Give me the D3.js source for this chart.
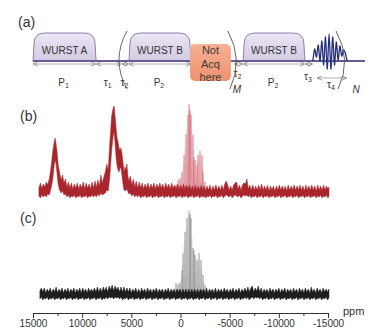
<!DOCTYPE html>
<html lang="en">
<head>
<meta charset="utf-8">
<title>WURST echo spectra</title>
<script src="https://cdn.jsdelivr.net/npm/d3@7"></script>
<style>
  body { margin: 0; background: #fff; }
  svg text { font-family: "Liberation Sans", Arial, sans-serif; }
</style>
</head>
<body>
<div id="chart"></div>
<script>

// ---- values ----
var ppmTicks = [15000, 10000, 5000, 0, -5000, -10000, -15000];
var ppmMinor = [12500, 7500, 2500, -2500, -7500, -12500];

// (b) envelope of the noisy trace: [ppm, low, high] (intensity above baseline)
var traceB = [
  [14400,-2,6],[14250,-4,11],[14100,-1,6],[13950,-3,10],[13800,-1,7],[13650,-3,12],
  [13500,0,9],[13350,-1,15],[13200,4,24],[13000,14,42],[12850,28,52],[12750,34,56],
  [12650,30,50],[12550,20,42],[12450,10,30],[12300,4,22],[12150,1,14],[12000,3,19],
  [11850,-1,11],[11700,0,15],[11550,-3,7],[11400,-1,12],[11250,-4,6],[11100,-2,11],
  [10950,-3,5],[10800,-1,10],[10650,-4,6],[10500,-2,11],[10350,-3,5],[10200,-1,10],
  [10050,-4,6],[9900,-2,12],[9750,-3,5],[9600,-1,11],[9450,-4,6],[9300,-2,10],
  [9150,-3,5],[9000,-1,12],[8850,-3,6],[8700,-1,13],[8550,-3,7],[8400,0,14],
  [8250,-2,8],[8100,1,19],[7950,-1,11],[7800,0,17],[7650,1,22],[7500,4,30],
  [7350,3,24],[7200,16,50],[7000,44,78],[6850,58,86],[6750,62,88],[6650,50,78],
  [6550,36,66],[6450,28,56],[6350,24,52],[6250,22,46],[6150,26,44],[6050,26,46],
  [5950,18,40],[5850,10,32],[5750,4,22],[5650,3,27],[5550,4,24],[5450,5,30],
  [5350,2,18],[5250,0,13],[5100,1,18],[4950,-2,9],[4800,0,15],[4650,-3,7],
  [4500,-1,13],[4350,-3,6],[4200,-1,12],[4050,-4,6],[3900,-2,11],[3750,-3,5],
  [3600,-1,10],[3450,-4,6],[3300,-2,11],[3150,-3,5],[3000,-1,10],[2850,-4,6],
  [2700,-2,11],[2550,-3,5],[2400,-1,10],[2250,-4,6],[2100,-2,11],[1950,-3,6],
  [1800,-1,10],[1650,-4,5],[1500,-2,11],[1350,-3,6],[1200,-1,10],[1050,-4,5],
  [900,-2,11],[750,-3,6],[600,-1,9],[450,-4,5],[300,-2,10],[150,-3,5],
  [0,-1,9],[-150,-4,5],[-300,-2,10],[-450,-3,5],[-600,-1,9],[-750,-4,5],
  [-900,-2,9],[-1050,-3,4],[-1200,-1,8],[-1350,-4,4],[-1500,-2,9],[-1650,-3,4],
  [-1800,-1,8],[-1950,-4,4],[-2100,-2,9],[-2250,-3,4],[-2400,-2,8],[-2550,-4,3],
  [-2700,-2,8],[-2850,-3,4],[-3000,-1,9],[-3150,-4,3],[-3300,-2,8],[-3450,-3,4],
  [-3600,-1,9],[-3750,-4,4],[-3900,-2,8],[-4050,-3,4],[-4200,-1,9],[-4350,-4,4],
  [-4500,-2,10],[-4650,-1,13],[-4800,-2,9],[-4950,-3,4],[-5100,-1,8],[-5250,-4,4],
  [-5400,-2,9],[-5550,-1,11],[-5700,-2,12],[-5850,-3,5],[-6000,-1,9],[-6150,-4,4],
  [-6300,-2,9],[-6450,-1,11],[-6600,-2,10],[-6750,-1,15],[-6900,-3,5],[-7050,-1,9],
  [-7200,-4,4],[-7350,-2,9],[-7500,-3,4],[-7650,-1,8],[-7800,-4,4],[-7950,-2,9],
  [-8100,-3,4],[-8250,-1,10],[-8400,-4,4],[-8550,-2,8],[-8700,-3,4],[-8850,-1,9],
  [-9000,-4,3],[-9150,-2,8],[-9300,-3,4],[-9450,-1,8],[-9600,-4,3],[-9750,-2,8],
  [-9900,-3,4],[-10050,-1,9],[-10200,-4,4],[-10350,-2,8],[-10500,-3,4],[-10650,-1,8],
  [-10800,-4,3],[-10950,-2,9],[-11100,-3,4],[-11250,-1,8],[-11400,-4,4],[-11550,-2,9],
  [-11700,-3,4],[-11850,-1,8],[-12000,-4,4],[-12150,-2,9],[-12300,-3,4],[-12450,-1,8],
  [-12600,-4,3],[-12750,-2,9],[-12900,-3,4],[-13050,-1,8],[-13200,-4,4],[-13350,-2,9],
  [-13500,-3,4],[-13650,-1,8],[-13800,-4,3],[-13950,-2,9],[-14100,-3,4],[-14250,-1,8],
  [-14400,-4,4],[-14550,-2,9],[-14700,-3,4],[-14850,-1,8],[-15000,-4,5],[-15100,-2,7]
];
// (b) spikelets of the central line: [ppm, height]
var spikesB = [
  [460,9],[250,14],[50,16],[-150,22],[-360,39],[-560,60],[-760,79],[-870,90],
  [-970,84],[-1070,79],[-1270,59],[-1370,37],[-1480,34],[-1680,29],[-1780,39],
  [-1980,43],[-2190,39],[-2290,22],[-2490,12]
];
var faintB = [
  [350,10],[150,13],[-50,17],[-250,28],[-460,46],[-660,66],[-820,82],[-920,84],
  [-1020,78],[-1170,64],[-1320,44],[-1430,33],[-1580,28],[-1730,33],[-1880,38],
  [-2080,38],[-2240,27],[-2400,14]
];

// (c) envelope of the noisy trace
var traceC = [
  [14300,-3,5],[14150,-1,8],[14000,-4,4],[13850,-2,8],[13700,-3,3],[13550,-1,7],
  [13400,-4,4],[13250,-2,8],[13100,-3,3],[12950,-1,7],[12800,-4,4],[12650,-2,9],
  [12500,-3,3],[12350,-1,7],[12200,-4,4],[12050,-2,8],[11900,-3,3],[11750,-1,7],
  [11600,-4,4],[11450,-2,8],[11300,-3,3],[11150,-1,7],[11000,-4,4],[10850,-2,8],
  [10700,-3,3],[10550,-1,7],[10400,-4,4],[10250,-2,8],[10100,-3,3],[9950,-1,8],
  [9800,-4,4],[9650,-2,7],[9500,-3,3],[9350,-1,8],[9200,-4,4],[9050,-2,7],
  [8900,-3,4],[8750,-1,8],[8600,-4,4],[8450,-2,9],[8300,-3,4],[8150,-1,8],
  [8000,-4,4],[7850,-2,9],[7700,-3,5],[7550,-1,9],[7400,-3,4],[7250,-1,10],
  [7100,-2,6],[6950,-1,11],[6800,-3,5],[6650,-1,10],[6500,-2,6],[6350,-1,9],
  [6200,-3,4],[6050,-1,9],[5900,-4,4],[5750,-2,9],[5600,-3,4],[5450,-1,8],
  [5300,-4,4],[5150,-2,8],[5000,-3,3],[4850,-1,7],[4700,-4,4],[4550,-2,8],
  [4400,-3,3],[4250,-1,7],[4100,-4,3],[3950,-2,8],[3800,-3,4],[3650,-1,7],
  [3500,-4,3],[3350,-2,8],[3200,-3,4],[3050,-1,7],[2900,-4,3],[2750,-2,7],
  [2600,-3,4],[2450,-1,8],[2300,-4,3],[2150,-2,7],[2000,-3,4],[1850,-1,7],
  [1700,-4,3],[1550,-2,7],[1400,-3,4],[1250,-1,8],[1100,-4,3],[950,-2,7],
  [800,-3,4],[650,-1,7],[500,-4,3],[350,-2,7],[200,-3,4],[50,-1,7],
  [-100,-4,3],[-250,-2,7],[-400,-3,3],[-550,-1,7],[-700,-4,3],[-850,-2,7],
  [-1000,-3,3],[-1150,-1,7],[-1300,-4,3],[-1450,-2,7],[-1600,-3,3],[-1750,-1,7],
  [-1900,-4,3],[-2050,-2,7],[-2200,-3,4],[-2350,-1,7],[-2500,-4,3],[-2650,-2,8],
  [-2800,-3,3],[-2950,-1,7],[-3100,-4,4],[-3250,-2,7],[-3400,-3,3],[-3550,-1,8],
  [-3700,-4,3],[-3850,-2,7],[-4000,-3,4],[-4150,-1,7],[-4300,-4,3],[-4450,-2,8],
  [-4600,-3,4],[-4750,-1,7],[-4900,-4,3],[-5050,-2,7],[-5200,-3,4],[-5350,-1,8],
  [-5500,-4,3],[-5650,-2,7],[-5800,-3,4],[-5950,-1,8],[-6100,-4,3],[-6250,-2,7],
  [-6400,-3,4],[-6550,-1,8],[-6700,-3,4],[-6850,-1,9],[-7000,-4,4],[-7150,-2,8],
  [-7300,-1,10],[-7450,-3,4],[-7600,-1,8],[-7750,-2,5],[-7900,-1,10],[-8050,-3,4],
  [-8200,-1,8],[-8350,-4,3],[-8500,-2,7],[-8650,-3,4],[-8800,-1,7],[-8950,-4,3],
  [-9100,-2,8],[-9250,-3,4],[-9400,-1,7],[-9550,-4,3],[-9700,-2,7],[-9850,-3,4],
  [-10000,-1,8],[-10150,-4,3],[-10300,-2,7],[-10450,-3,4],[-10600,-1,8],[-10750,-4,3],
  [-10900,-2,7],[-11050,-3,4],[-11200,-1,7],[-11350,-4,3],[-11500,-2,8],[-11650,-3,4],
  [-11800,-1,7],[-11950,-4,3],[-12100,-2,8],[-12250,-3,4],[-12400,-1,7],[-12550,-4,3],
  [-12700,-2,8],[-12850,-3,4],[-13000,-1,7],[-13150,-4,3],[-13300,-2,9],[-13450,-3,4],
  [-13600,-1,7],[-13750,-4,3],[-13900,-2,8],[-14050,-3,4],[-14200,-1,7],[-14350,-4,3],
  [-14500,-2,8],[-14650,-3,4],[-14800,-1,7],[-14950,-4,4],[-15100,-2,7]
];
var spikesC = [
  [460,13],[250,12],[50,14],[-150,26],[-260,43],[-460,64],[-660,78],[-870,85],
  [-970,82],[-1070,78],[-1270,48],[-1370,46],[-1480,41],[-1680,36],[-1880,43],
  [-2090,36],[-2290,21],[-2490,11]
];
var faintC = [
  [350,10],[150,12],[-50,18],[-200,31],[-360,52],[-560,69],[-760,80],[-920,81],
  [-1020,77],[-1170,58],[-1320,44],[-1420,41],[-1580,36],[-1780,37],[-1980,37],
  [-2190,27],[-2390,14]
];

// (a) pulse sequence, time in arbitrary units along the line
var pulseNames = ["WURST A", "WURST B", "WURST B"];
var pulseStart = [0, 28.9, 63.3];
var pulseEnd = [19, 47.6, 81.9];
var delayNames = ["P", "τ", "τ", "P", "τ", "P", "τ", "τ"];
var delaySubs = ["1", "1", "2", "2", "2", "2", "3", "4"];
var delayStart = [0, 19, 26.8, 28.9, 60.5, 63.3, 81.9, 85.5];
var delayEnd = [19, 26.6, 28.9, 47.6, 63.3, 81.9, 84.3, 94.6];
var acqText = ["Not", "Acq", "here"];
var acqStart = 47.3, acqEnd = 59.6;
var echoStart = 84.3, echoEnd = 94.6;
var echoAmps = [3, 5, 7, 9, 11, 13, 15, 17, 18, 17, 15, 13, 10, 8, 6, 4, 2, 1];
var loopNames = ["", "M", "N"];
var loopAt = [26.8, 60.5, 93.1];

// ---- drawing ----
var W = 390, H = 336;
var svg = d3.select("#chart").append("svg")
    .attr("width", W)
    .attr("height", H);

var defs = svg.append("defs");

var grad = defs.append("linearGradient").attr("id", "wurstFill")
    .attr("x1", 0).attr("y1", 0).attr("x2", 0).attr("y2", 1);
grad.append("stop").attr("offset", "0%").attr("stop-color", "#ece7f3");
grad.append("stop").attr("offset", "100%").attr("stop-color", "#d3c9e3");

var grad2 = defs.append("linearGradient").attr("id", "acqFill")
    .attr("x1", 0).attr("y1", 0).attr("x2", 0).attr("y2", 1);
grad2.append("stop").attr("offset", "0%").attr("stop-color", "#f6b193");
grad2.append("stop").attr("offset", "100%").attr("stop-color", "#ee9170");

defs.append("marker").attr("id", "arr")
    .attr("viewBox", "0 0 6 6")
    .attr("refX", 5.5).attr("refY", 3)
    .attr("markerWidth", 5).attr("markerHeight", 5)
    .attr("markerUnits", "userSpaceOnUse")
    .attr("orient", "auto-start-reverse")
  .append("path")
    .attr("d", "M0.5,0.5 L5.5,3 L0.5,5.5")
    .attr("fill", "none")
    .attr("stroke", "#777")
    .attr("stroke-width", 0.9);

// panel letters
svg.selectAll("text.panel")
    .data(["(a)", "(b)", "(c)"])
    .enter()
    .append("text")
    .attr("class", "panel")
    .attr("x", function(d, i) { return i == 0 ? 18 : 20; })
    .attr("y", function(d, i) { return [27, 121, 223][i]; })
    .attr("font-size", 14)
    .attr("fill", "#333")
    .text(function(d) { return d; });

// ---- (a) the pulse sequence ----
var t = d3.scaleLinear().domain([0, 100]).range([33, 365]);
var baseY = 61, topY = 33;
var seq = svg.append("g");

// dimension arrows under the line
var arrowY = [64, 64, 64, 64, 64, 64, 64, 78];
var labelY = [86, 86, 86, 86, 77, 86, 80, 88];
delayStart.forEach(function(s, i) {
  seq.append("line")
      .attr("x1", t(s) + 0.5).attr("x2", t(delayEnd[i]) - 0.5)
      .attr("y1", arrowY[i]).attr("y2", arrowY[i])
      .attr("stroke", "#999")
      .attr("stroke-width", 0.8)
      .attr("marker-start", "url(#arr)")
      .attr("marker-end", "url(#arr)");
  var lab = seq.append("text")
      .attr("x", (t(s) + t(delayEnd[i])) / 2 - 1)
      .attr("y", labelY[i])
      .attr("text-anchor", "middle")
      .attr("font-size", 10)
      .attr("fill", "#333");
  lab.append("tspan").text(delayNames[i]);
  lab.append("tspan").attr("font-size", 7).attr("dy", 2).text(delaySubs[i]);
});

// WURST pulses
pulseNames.forEach(function(name, i) {
  var x0 = t(pulseStart[i]), x1 = t(pulseEnd[i]), r = 11;
  var p = d3.path();
  p.moveTo(x0, baseY);
  p.lineTo(x0 + 1, topY + r);
  p.quadraticCurveTo(x0 + 1, topY, x0 + r + 1, topY);
  p.lineTo(x1 - r - 1, topY);
  p.quadraticCurveTo(x1 - 1, topY, x1 - 1, topY + r);
  p.lineTo(x1, baseY);
  seq.append("path")
      .attr("d", p.toString())
      .attr("fill", "url(#wurstFill)")
      .attr("stroke", "#8d7fae")
      .attr("stroke-width", 1);
  seq.append("text")
      .attr("x", (x0 + x1) / 2)
      .attr("y", 54)
      .attr("text-anchor", "middle")
      .attr("font-family", "'Liberation Sans Narrow', 'Liberation Sans', Arial, sans-serif")
      .attr("font-size", 10)
      .attr("fill", "#333")
      .text(name);
});

// main line
seq.append("line")
    .attr("x1", t(0)).attr("x2", t(100))
    .attr("y1", baseY).attr("y2", baseY)
    .attr("stroke", "#6b5b95")
    .attr("stroke-width", 2);

// not acquired box
seq.append("rect")
    .attr("x", t(acqStart)).attr("y", 44)
    .attr("width", t(acqEnd) - t(acqStart)).attr("height", 37)
    .attr("rx", 5)
    .attr("fill", "url(#acqFill)");
seq.selectAll("text.acq")
    .data(acqText)
    .enter()
    .append("text")
    .attr("class", "acq")
    .attr("x", (t(acqStart) + t(acqEnd)) / 2)
    .attr("y", function(d, i) { return 54 + i * 13.5; })
    .attr("text-anchor", "middle")
    .attr("font-size", 11)
    .attr("fill", "#3a3a3a")
    .text(function(d) { return d; });

// echo, drawn round a centre a little above the line
var echoY = 52;
var ex = d3.scaleLinear().domain([0, echoAmps.length + 1]).range([t(echoStart), t(echoEnd)]);
var echoPts = [[ex(0), baseY]];
echoAmps.forEach(function(a, i) {
  echoPts.push([ex(i + 1), echoY + (i % 2 == 0 ? -a : a)]);
});
echoPts.push([ex(echoAmps.length + 1), baseY]);
seq.append("path")
    .attr("d", d3.line().curve(d3.curveCardinal.tension(0.2))(echoPts))
    .attr("fill", "none")
    .attr("stroke", "#28317c")
    .attr("stroke-width", 1.3);

// loop brackets
loopAt.forEach(function(s, i) {
  var xc = t(s), p = d3.path();
  if (i == 0) {
    p.moveTo(xc + 5, 31);
    p.quadraticCurveTo(xc - 11, 60, xc + 5, 89);
  } else {
    p.moveTo(xc - 6, 31);
    p.quadraticCurveTo(xc + 10, 60, xc - 4, 89);
  }
  seq.append("path")
      .attr("d", p.toString())
      .attr("fill", "none")
      .attr("stroke", "#555")
      .attr("stroke-width", 0.9);
  if (loopNames[i]) {
    seq.append("text")
        .attr("x", xc + (i == 1 ? 3 : 14))
        .attr("y", 93)
        .attr("text-anchor", "middle")
        .attr("font-size", 10)
        .attr("font-style", "italic")
        .attr("fill", "#333")
        .text(loopNames[i]);
  }
});

// ---- (b) and (c) spectra ----
var x = d3.scaleLinear().domain([15000, -15000]).range([33, 328]);
var yB = d3.scaleLinear().domain([0, 90]).range([194, 104]);
var yC = d3.scaleLinear().domain([0, 90]).range([296, 206]);

function drawSpectrum(y, trace, spikes, faint, colBand, colSpike, colFaint, colFill) {
  var g = svg.append("g");
  g.selectAll("line.faint")
      .data(faint)
      .enter()
      .append("line")
      .attr("class", "faint")
      .attr("x1", function(d) { return x(d[0]); })
      .attr("x2", function(d) { return x(d[0]); })
      .attr("y1", y(0))
      .attr("y2", function(d) { return y(d[1]); })
      .attr("stroke", colFaint)
      .attr("stroke-width", 0.7);
  g.selectAll("path.spike")
      .data(spikes)
      .enter()
      .append("path")
      .attr("class", "spike")
      .attr("d", function(d) {
        var xs = x(d[0]);
        return "M" + (xs - 0.6) + "," + y(0) + "L" + xs + "," + y(d[1]) + "L" + (xs + 0.6) + "," + y(0) + "Z";
      })
      .attr("fill", colFill)
      .attr("stroke", colSpike)
      .attr("stroke-width", 0.5);
  var area = d3.area()
      .x(function(d) { return x(d[0]); })
      .y0(function(d) { return y(d[1]); })
      .y1(function(d) { return y(d[2]); });
  g.append("path")
      .attr("d", area(trace))
      .attr("fill", colBand)
      .attr("stroke", colBand)
      .attr("stroke-width", 0.5)
      .attr("stroke-linejoin", "miter");
}

drawSpectrum(yB, traceB, spikesB, faintB, "#a8262c", "#d06470", "#f2cfd2", "#eab8bc");
drawSpectrum(yC, traceC, spikesC, faintC, "#1e1e1e", "#8a8a8a", "#d4d4d4", "#c4c4c4");

// ppm axis
var axisY = 313;
var axisG = svg.append("g")
    .attr("transform", "translate(0," + axisY + ")")
    .call(d3.axisBottom(x)
      .tickValues(ppmTicks)
      .tickSize(5)
      .tickSizeOuter(0)
      .tickPadding(2)
      .tickFormat(function(d) { return String(d); }));
axisG.select(".domain").attr("stroke", "#333");
axisG.selectAll(".tick line").attr("stroke", "#333");
axisG.selectAll(".tick text")
    .attr("font-family", "'Liberation Sans', Arial, sans-serif")
    .attr("font-size", 10)
    .attr("fill", "#333");

var minorG = svg.append("g")
    .attr("transform", "translate(0," + axisY + ")")
    .call(d3.axisBottom(x).tickValues(ppmMinor).tickSize(3).tickFormat(""));
minorG.select(".domain").remove();
minorG.selectAll(".tick line").attr("stroke", "#333");

svg.append("text")
    .attr("x", 343)
    .attr("y", 315)
    .attr("font-size", 11)
    .attr("fill", "#333")
    .text("ppm");

</script>
</body>
</html>
